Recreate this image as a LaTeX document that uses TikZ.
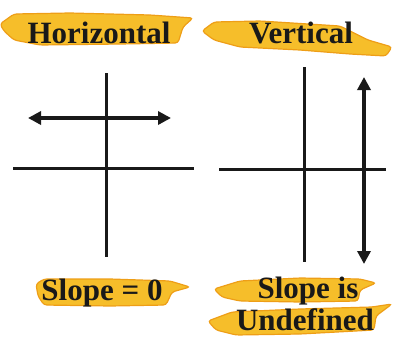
\documentclass[tikz,border=0pt]{standalone}
\usepackage{fontspec}
\setmainfont{Liberation Serif}
\usetikzlibrary{arrows.meta}
\definecolor{hilite}{HTML}{F6BE2A}
\definecolor{hiedge}{HTML}{EE9E17}
\begin{document}
\begin{tikzpicture}[x=1pt,y=-1pt,
  lbl/.style={font=\fontsize{31}{33}\selectfont\bfseries, inner sep=0pt, text=black!90},
  axis/.style={line width=3pt, black!90},
  dbl/.style={line width=4pt, black!90, {Triangle[length=13pt,width=13pt]}-{Triangle[length=13pt,width=13pt]}},
  brush/.style={fill=hilite, draw=hiedge, line width=1.2pt, rounded corners=3pt}]
\useasboundingbox (0,0) rectangle (397,338);
% highlights
\path[brush] (0,24) -- (14,14) -- (70,13) -- (150,15) -- (193,18) -- (183,27) -- (178,43) -- (120,44) -- (40,45) -- (14,40) -- (4,31) -- cycle;
\path[brush] (202,31) -- (214,22) -- (260,21) -- (340,26) -- (368,40) -- (392,47) -- (386,56) -- (350,54) -- (300,50) -- (240,47) -- (214,40) -- cycle;
\path[brush] (36,284) -- (44,279) -- (110,279) -- (170,281) -- (190,287) -- (172,292) -- (166,305) -- (110,306) -- (44,305) -- (38,296) -- cycle;
\path[brush] (214,289) -- (240,281) -- (300,278) -- (360,279) -- (376,283) -- (360,290) -- (358,301) -- (300,302) -- (240,301) -- (222,297) -- cycle;
\path[brush] (208,321) -- (232,312) -- (300,309) -- (372,307) -- (392,304) -- (376,316) -- (374,330) -- (300,334) -- (236,335) -- (216,330) -- cycle;
% labels
\node[lbl] (h) at (99,33) {Horizontal};
\node[lbl] (v) at (301,33) {Vertical};
\node[lbl] (s0) at (102,293) {Slope = 0};
\node[lbl] (si) at (308,291) {Slope is};
\node[lbl] (ud) at (305,320) {Undefined};
% left graph
\coordinate (ly1) at (106,73);
\coordinate (ly2) at (106,257);
\coordinate (lx1) at (13,168);
\coordinate (lx2) at (194,168);
\coordinate (la1) at (28,118);
\coordinate (la2) at (171,118);
\draw[axis] (ly1) -- (ly2);
\draw[axis] (lx1) -- (lx2);
\draw[dbl] (la1) -- (la2);
% right graph
\coordinate (ry1) at (304,67);
\coordinate (ry2) at (304,262);
\coordinate (rx1) at (219,169);
\coordinate (rx2) at (386,169);
\coordinate (ra1) at (364,77);
\coordinate (ra2) at (364,264);
\draw[axis] (ry1) -- (ry2);
\draw[axis] (rx1) -- (rx2);
\draw[dbl] (ra1) -- (ra2);
\end{tikzpicture}
\end{document}
